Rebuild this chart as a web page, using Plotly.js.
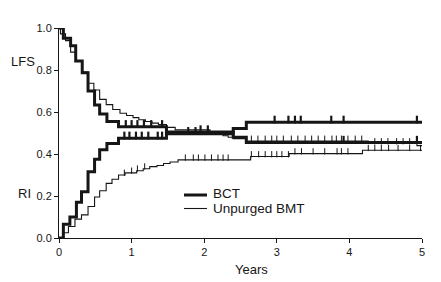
<!DOCTYPE html>
<html>
<head>
<meta charset="utf-8">
<script src="https://cdn.plot.ly/plotly-3.0.1.min.js"></script>
<style>html,body{margin:0;padding:0;background:#fff;}#chart{width:441px;height:282px;}</style>
</head>
<body>
<div id="chart"></div>
<script>
// ---- Data ----
const seriesNames = ['BCT', 'Unpurged BMT'];
const xTickVals = [0, 1, 2, 3, 4, 5];
const xTickText = ['0', '1', '2', '3', '4', '5'];
const yTickVals = [0, 0.2, 0.4, 0.6, 0.8, 1.0];
const yTickText = ['0.0', '0.2', '0.4', '0.6', '0.8', '1.0'];

// BCT leukaemia-free survival (step times in years, values)
const bctLfsT = [0, 0.06, 0.16, 0.23, 0.32, 0.40, 0.49, 0.56, 0.66, 0.82, 1.48, 2.40, 2.58, 5.0];
const bctLfsV = [1.0, 0.951, 0.916, 0.843, 0.787, 0.70, 0.633, 0.59, 0.555, 0.53, 0.505, 0.48, 0.455, 0.455];
const bctLfsCens = [0.92, 1.0, 1.08, 1.17, 1.27, 1.42, 1.95, 2.05, 3.92, 4.93];

// BCT relapse incidence
const bctRiT = [0, 0.06, 0.15, 0.24, 0.31, 0.40, 0.49, 0.56, 0.66, 0.82, 1.48, 2.40, 2.58, 5.0];
const bctRiV = [0, 0.065, 0.10, 0.17, 0.22, 0.315, 0.375, 0.42, 0.45, 0.475, 0.497, 0.522, 0.551, 0.551];
const bctRiCens = [0.9, 0.97, 1.06, 1.14, 1.23, 1.36, 1.42, 1.78, 1.88, 2.97, 3.16, 3.25, 3.33, 3.75, 3.92, 4.93];

// Unpurged BMT leukaemia-free survival
const bmtLfsT = [0, 0.02, 0.09, 0.16, 0.24, 0.32, 0.40, 0.48, 0.56, 0.65, 0.74, 0.84, 0.93, 1.02, 1.10, 1.19, 1.28, 1.37, 1.48, 1.60, 2.08, 2.26, 2.33, 2.40, 2.58, 4.26, 4.93, 5.0];
const bmtLfsV = [1.0, 0.972, 0.94, 0.885, 0.843, 0.79, 0.737, 0.705, 0.66, 0.635, 0.612, 0.594, 0.583, 0.573, 0.563, 0.555, 0.547, 0.54, 0.527, 0.515, 0.495, 0.487, 0.48, 0.473, 0.462, 0.45, 0.44, 0.44];
const bmtLfsCens = [2.65, 2.74, 2.84, 2.93, 3.0, 3.09, 3.2, 3.29, 3.39, 3.48, 3.57, 3.66, 3.76, 3.82, 3.89, 3.98, 4.08, 4.17, 4.35, 4.44, 4.53, 4.65, 4.74, 4.83];

// Unpurged BMT relapse incidence
const bmtRiT = [0, 0.05, 0.13, 0.22, 0.31, 0.40, 0.49, 0.56, 0.65, 0.73, 0.82, 0.91, 1.07, 1.16, 1.25, 1.35, 1.44, 1.53, 1.64, 2.64, 3.17, 4.18, 5.0];
const bmtRiV = [0, 0.025, 0.055, 0.09, 0.11, 0.15, 0.195, 0.225, 0.26, 0.28, 0.30, 0.31, 0.32, 0.33, 0.34, 0.345, 0.355, 0.362, 0.372, 0.388, 0.402, 0.418, 0.418];
const bmtRiCens = [0.9, 1.0, 1.08, 1.18, 1.74, 1.85, 1.92, 2.01, 2.10, 2.19, 2.26, 2.33, 2.65, 2.75, 2.84, 2.93, 3.0, 3.07, 3.16, 3.25, 3.34, 3.5, 3.66, 3.83, 3.89, 3.98, 4.26, 4.35, 4.44, 4.54, 4.67, 4.83, 4.98];

// ---- Drawing ----
const W = 441, H = 282;
const M = {l: 59, r: 19, t: 28, b: 44, pad: 0};
const plotH = H - M.t - M.b;
const FONT = 'Liberation Sans, Arial, Helvetica, sans-serif';
const INK = '#161616';

function stepAt(ts, vs, t) {
  let v = vs[0];
  for (let i = 0; i < ts.length; i++) { if (ts[i] <= t) v = vs[i]; }
  return v;
}

function curve(ts, vs, width) {
  return {x: ts, y: vs, type: 'scatter', mode: 'lines',
    line: {shape: 'hv', color: INK, width: width}, hoverinfo: 'skip', showlegend: false};
}
function censors(ts, vs, cens, width, len) {
  const off = (len / 2) / plotH; // raise tick so it sits on top of the line
  return {x: cens, y: cens.map(c => stepAt(ts, vs, c) + off), type: 'scatter', mode: 'markers',
    marker: {symbol: 'line-ns', size: len, color: INK, line: {color: INK, width: width}},
    cliponaxis: false, hoverinfo: 'skip', showlegend: false};
}

const thick = 3, thin = 1.1;
const data = [
  curve(bmtLfsT, bmtLfsV, thin),
  curve(bmtRiT, bmtRiV, thin),
  censors(bmtLfsT, bmtLfsV, bmtLfsCens, 1, 4.5),
  censors(bmtRiT, bmtRiV, bmtRiCens, 1, 4.5),
  curve(bctLfsT, bctLfsV, thick),
  curve(bctRiT, bctRiV, thick),
  censors(bctLfsT, bctLfsV, bctLfsCens, 2.2, 5.5),
  censors(bctRiT, bctRiV, bctRiCens, 2.2, 5.5)
];

const pw = W - M.l - M.r;
const px2x = p => (p - M.l) / pw;
const py2y = p => (H - M.b - p) / plotH;

const axisCommon = {showline: true, linecolor: INK, linewidth: 1, ticks: 'outside', ticklen: 4,
  tickwidth: 1, tickcolor: INK, showgrid: false, zeroline: false, fixedrange: true,
  tickfont: {family: FONT, size: 11, color: INK}};

const legFont = {family: FONT, size: 13.5, color: INK};
const layout = {
  width: W, height: H, margin: M,
  paper_bgcolor: '#fff', plot_bgcolor: '#fff',
  showlegend: false,
  xaxis: Object.assign({}, axisCommon, {range: [0, 5], tickvals: xTickVals, ticktext: xTickText}),
  yaxis: Object.assign({}, axisCommon, {range: [0, 1], tickvals: yTickVals, ticktext: yTickText}),
  shapes: [
    {type: 'line', xref: 'paper', yref: 'paper', x0: px2x(184), x1: px2x(207), y0: py2y(195), y1: py2y(195), line: {color: INK, width: thick}},
    {type: 'line', xref: 'paper', yref: 'paper', x0: px2x(184), x1: px2x(207), y0: py2y(208.5), y1: py2y(208.5), line: {color: INK, width: thin}}
  ],
  annotations: [
    {text: seriesNames[0], xref: 'paper', yref: 'paper', x: px2x(212), y: py2y(193.5), xanchor: 'left', yanchor: 'middle', showarrow: false, borderpad: 0, font: legFont},
    {text: seriesNames[1], xref: 'paper', yref: 'paper', x: px2x(212), y: py2y(208.5), xanchor: 'left', yanchor: 'middle', showarrow: false, borderpad: 0, font: legFont},
    {text: 'LFS', xref: 'paper', yref: 'paper', x: px2x(9), y: py2y(62), xanchor: 'left', yanchor: 'middle', showarrow: false, font: {family: FONT, size: 13, color: INK}},
    {text: 'RI', xref: 'paper', yref: 'paper', x: px2x(16), y: py2y(193), xanchor: 'left', yanchor: 'middle', showarrow: false, font: {family: FONT, size: 13, color: INK}},
    {text: 'Years', xref: 'paper', yref: 'paper', x: px2x(251), y: py2y(269), xanchor: 'center', yanchor: 'middle', showarrow: false, font: {family: FONT, size: 13, color: INK}}
  ]
};

Plotly.newPlot('chart', data, layout, {staticPlot: true, displayModeBar: false});
</script>
</body>
</html>
